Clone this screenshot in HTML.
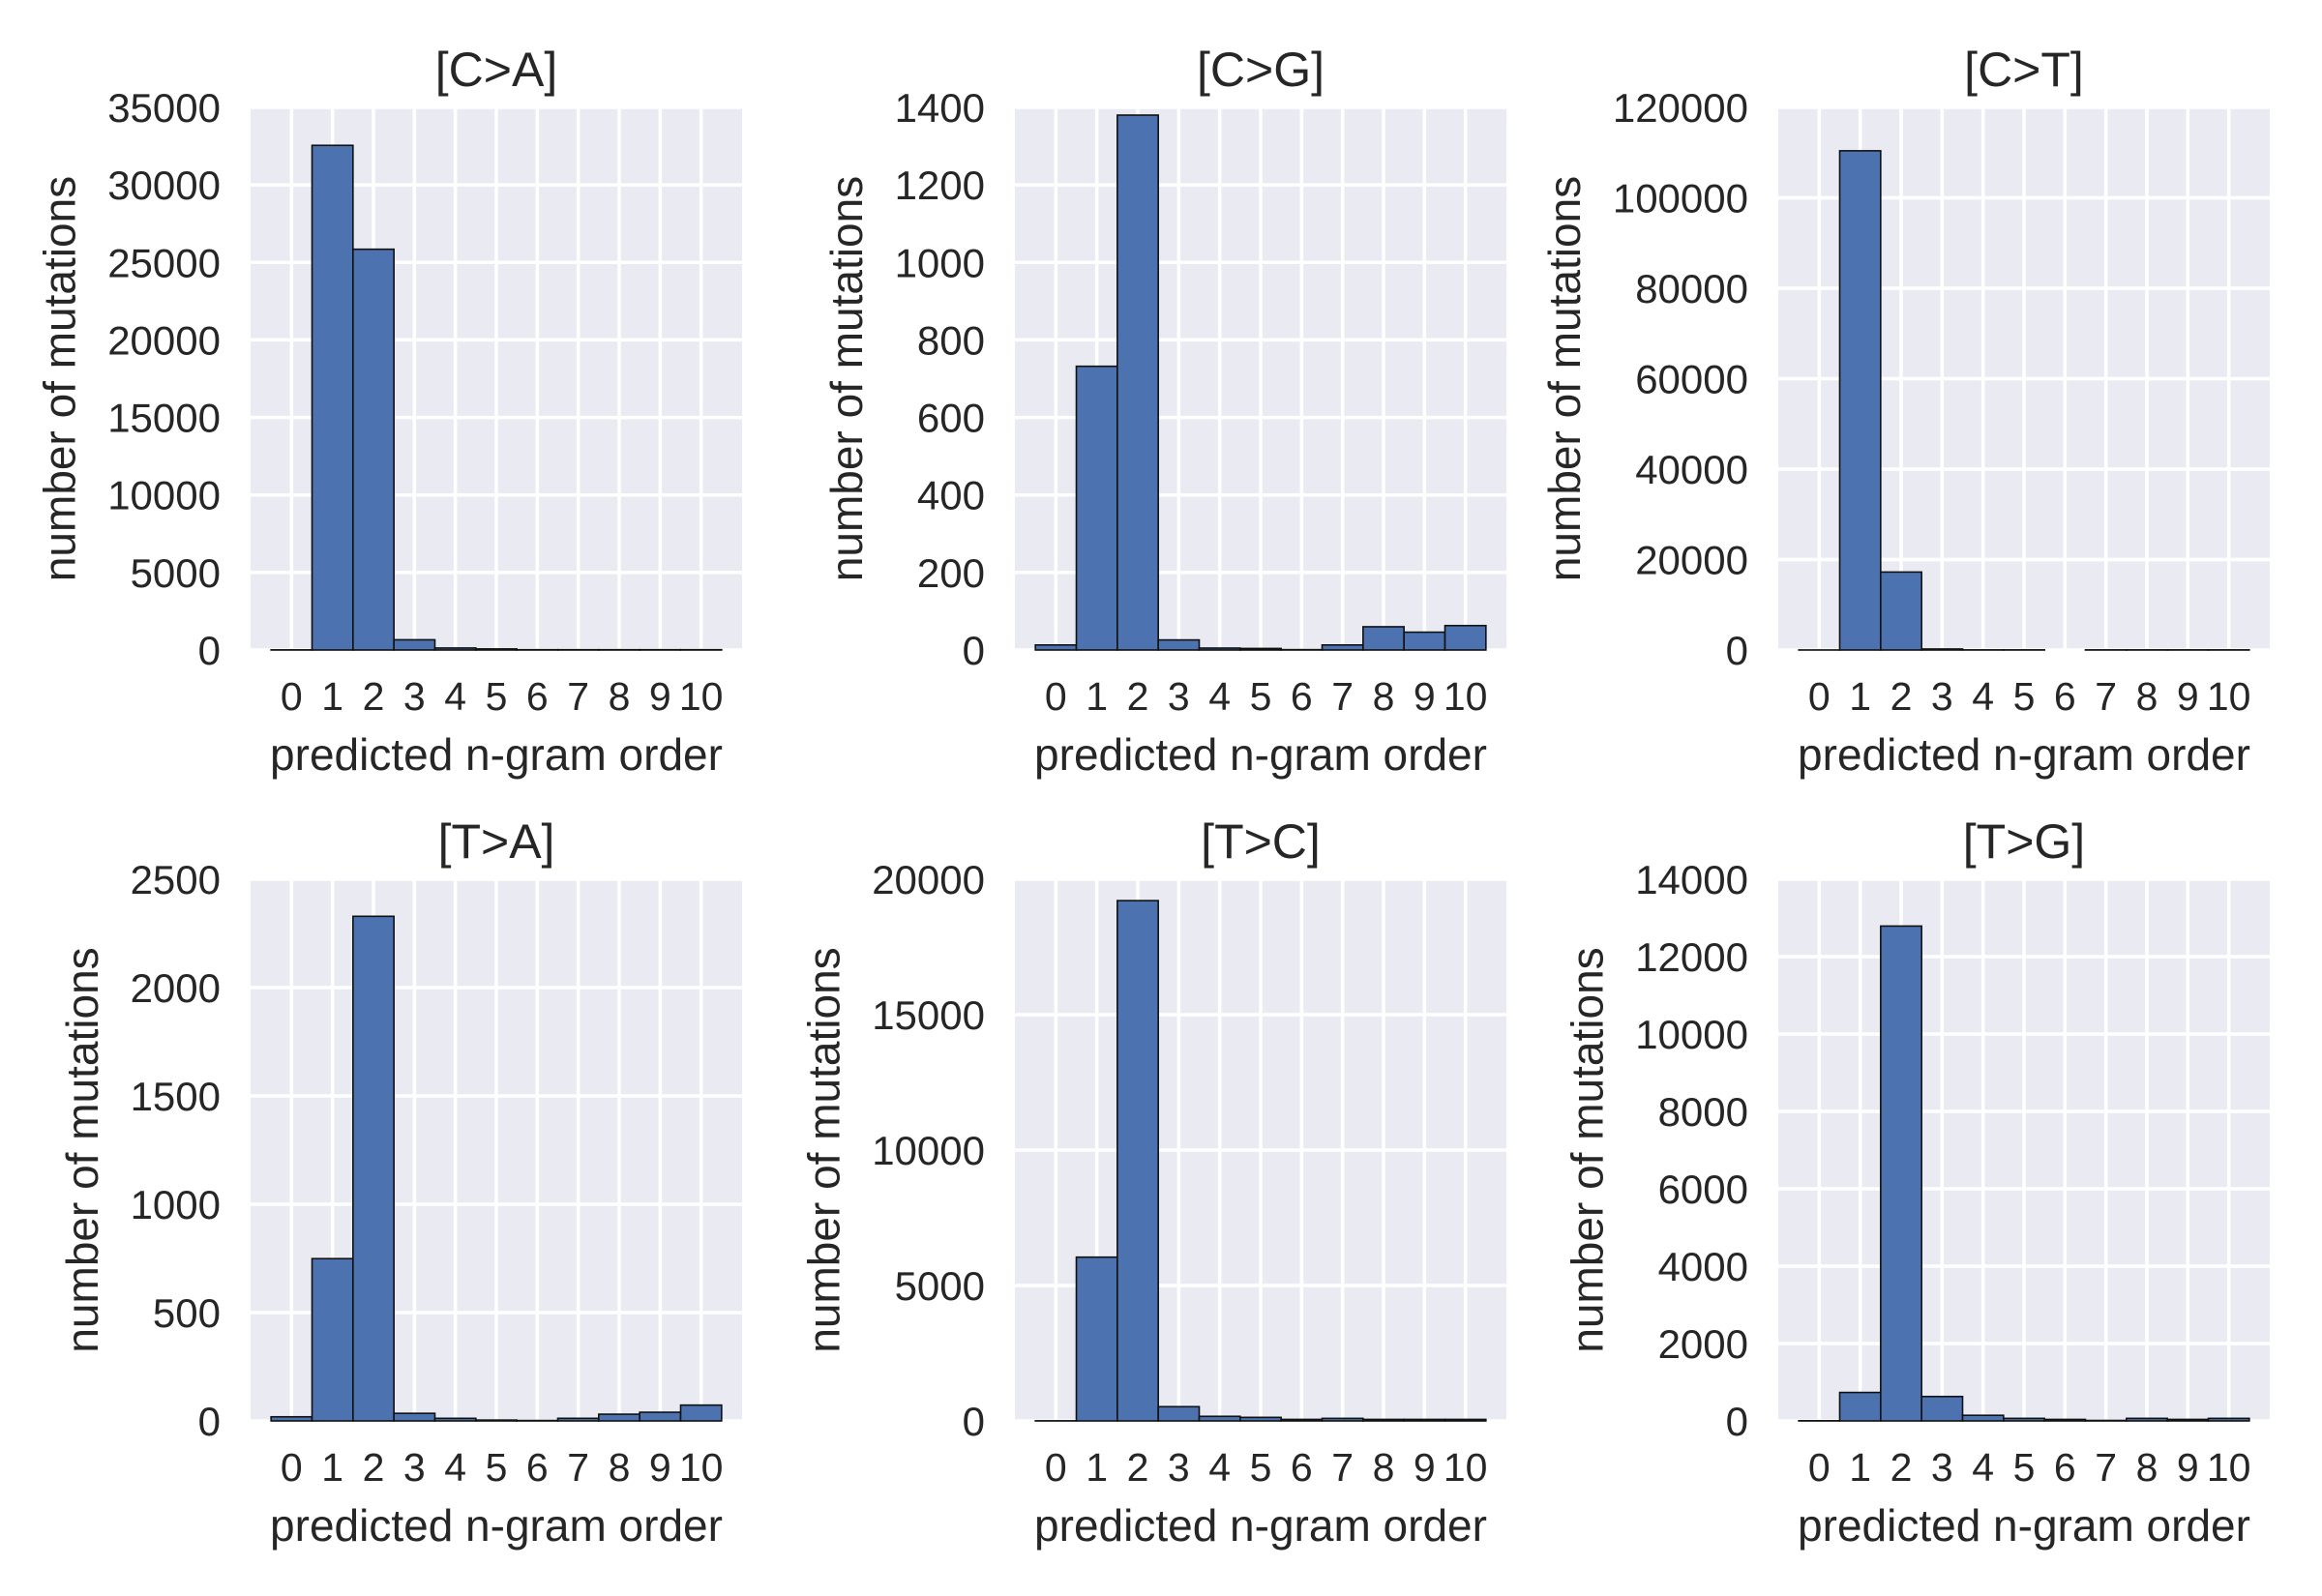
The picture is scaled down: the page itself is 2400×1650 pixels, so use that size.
<!DOCTYPE html>
<html><head><meta charset="utf-8"><style>
html,body{margin:0;padding:0;background:#fff;}
svg{display:block;font-family:"Liberation Sans",Arial,sans-serif;}
</style></head><body>
<svg id="fig" width="2400" height="1650" viewBox="0 0 2400 1650" xmlns="http://www.w3.org/2000/svg"></svg>
<script>
const panelTitles = ["[C>A]","[C>G]","[C>T]","[T>A]","[T>C]","[T>G]"];
const categories = [0,1,2,3,4,5,6,7,8,9,10];
const valsCA = [10,32550,25850,660,130,70,20,20,20,20,20];
const valsCG = [13,732,1380,26,5,4,1,13,60,46,63];
const valsCT = [10,110400,17240,225,30,30,0,30,30,30,30];
const valsTA = [19,749,2329,35,12,4,2,12,31,40,73];
const valsTC = [5,6047,19211,526,169,131,56,94,56,56,56];
const valsTG = [5,736,12790,631,145,66,39,13,66,39,66];
const yTicksCA = [0,5000,10000,15000,20000,25000,30000,35000];
const yTicksCG = [0,200,400,600,800,1000,1200,1400];
const yTicksCT = [0,20000,40000,60000,80000,100000,120000];
const yTicksTA = [0,500,1000,1500,2000,2500];
const yTicksTC = [0,5000,10000,15000,20000];
const yTicksTG = [0,2000,4000,6000,8000,10000,12000,14000];

const series = [valsCA,valsCG,valsCT,valsTA,valsTC,valsTG];
const yticks = [yTicksCA,yTicksCG,yTicksCT,yTicksTA,yTicksTC,yTicksTG];
const colLeft = [259,1049,1838], W = 508;
const rowTop = [111,909], rowBot = [672,1469];
const NS = "http://www.w3.org/2000/svg";
const svg = document.getElementById('fig');
function mk(tag, attrs, parent){const e=document.createElementNS(NS,tag);for(const k in attrs)e.setAttribute(k,attrs[k]);(parent||svg).appendChild(e);return e;}

for(let p=0;p<6;p++){
  const L = colLeft[p%3], T = rowTop[Math.floor(p/3)], B = rowBot[Math.floor(p/3)];
  const ticks = yticks[p], ymax = ticks[ticks.length-1];
  const xs = v => L + (v+1)/12*W;
  const ys = v => B - v/ymax*(B-T);
  const g = mk('g',{});
  
  
  const bg = mk('rect',{x:L,y:T,width:W,height:B-T,fill:'#EAEAF2'},g);
  
  
  ticks.forEach(t=>{
    const gl = mk('line',{x1:L,x2:L+W,y1:ys(t),y2:ys(t),stroke:'#fff','stroke-width':3.5},g);
    
    
    const tl = mk('text',{x:L-31,y:ys(t)+15,'text-anchor':'end','font-size':42,fill:'#262626'},g);
    tl.textContent = t;
    
    
  });
  categories.forEach(c=>{
    const gl = mk('line',{x1:xs(c),x2:xs(c),y1:T,y2:B,stroke:'#fff','stroke-width':3.5},g);
    
    
    const tl = mk('text',{x:xs(c),y:B+62,'text-anchor':'middle','font-size':41,fill:'#262626'},g);
    tl.textContent = c;
    
    
  });
  series[p].forEach((v,i)=>{
    const x0 = xs(categories[i]-0.5), x1 = xs(categories[i]+0.5);
    const b = mk('rect',{x:x0,y:ys(v),width:x1-x0,height:Math.max(0,B-ys(v)),fill:'#4C72B0',stroke:'#111','stroke-width':1.6},g);
    
    
  });
  const tt = mk('text',{x:L+W/2,y:T-22,'text-anchor':'middle','font-size':50,fill:'#262626'},g);
  tt.textContent = panelTitles[p];
  
  
  const xl = mk('text',{x:L+W/2,y:B+124,'text-anchor':'middle','font-size':46,fill:'#262626'},g);
  xl.textContent = 'predicted n-gram order';
  
  
  const n = String(ymax).length;
  const cx = L - 31 - n*23.3 - 34, cy = (T+B)/2;
  const yl = mk('text',{x:cx,y:cy,'text-anchor':'middle','font-size':46,fill:'#262626',transform:`rotate(-90 ${cx} ${cy})`},g);
  yl.textContent = 'number of mutations';
  
  
}
</script>
</body></html>
